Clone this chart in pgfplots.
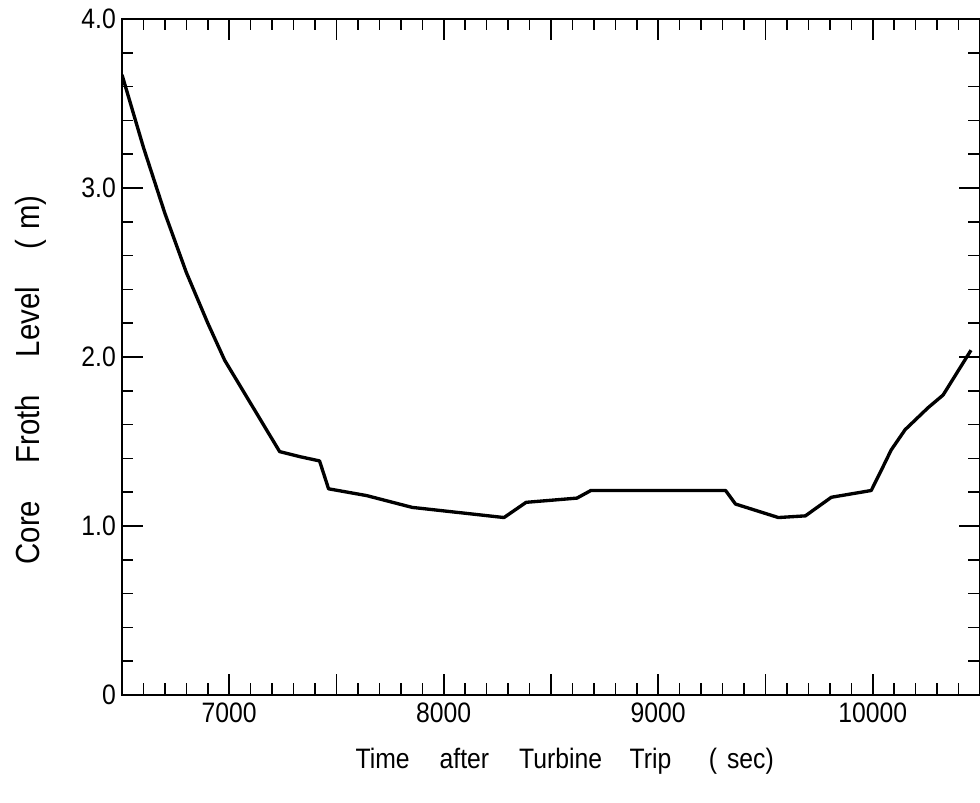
\documentclass[border=0pt]{standalone}
\usepackage{fontspec}
\setmainfont{Liberation Sans}[FakeStretch=0.88]
\usepackage{pgfplots}
\pgfplotsset{compat=1.18}

\begin{document}
\begin{tikzpicture}
% 1 px of the reference = 0.02cm
\path[use as bounding box] (-2.44,-2.16) rectangle (17.16,13.90);
\begin{axis}[
  at={(0,0)}, anchor=south west,
  scale only axis,
  width=17.16cm, height=13.52cm,
  xmin=6500, xmax=10500,
  ymin=0, ymax=4,
  scaled x ticks=false,
  axis line style={line width=1.6pt},
  xtick={7000,8000,9000,10000},
  xticklabels={7000,8000,9000,10000},
  extra x ticks={6500,7500,8500,9500,10500},
  extra x tick labels={},
  minor xtick={6600,6700,...,10400},
  ytick={0,1,2,3,4},
  yticklabels={0,1.0,2.0,3.0,4.0},
  minor ytick={0.2,0.4,...,3.8},
  tick align=inside,
  major tick length=0.42cm,
  minor tick length=0.23cm,
  every tick/.style={black, line width=0.9pt},
  ticklabel style={font=\fontsize{16}{18}\selectfont},
  xticklabel style={yshift=-0.04cm},
  xlabel={Time\hspace{0.6cm}after\hspace{0.6cm}Turbine\hspace{0.55cm}Trip\hspace{0.75cm}(\hspace{0.2cm}sec)},
  ylabel={Core\hspace{0.75cm}Froth\hspace{0.75cm}Level\hspace{0.75cm}(\hspace{0.2cm}m)},
  xlabel style={font=\fontsize{16}{18}\selectfont, at={(axis description cs:0.516,-0.0976)}, anchor=center},
  ylabel style={font=\fontsize{19}{21}\selectfont, at={(axis description cs:-0.106,0.466)}, anchor=center},
  clip=true,
]
  \addplot[black, line width=1.9pt, line join=round] coordinates {
    (6500,3.67) (6600,3.24) (6700,2.85) (6800,2.50) (6900,2.20)
    (6979,1.98) (7235,1.44) (7330,1.41) (7421,1.385)
    (7463,1.22) (7640,1.18) (7853,1.11) (8281,1.05) (8384,1.14)
    (8621,1.165) (8686,1.21) (9095,1.21) (9314,1.21) (9360,1.13)
    (9560,1.05) (9686,1.06) (9807,1.17) (9993,1.21) (10040,1.33)
    (10086,1.45) (10151,1.57) (10258,1.70) (10328,1.775) (10458,2.04)
  };
\end{axis}
\end{tikzpicture}
\end{document}
